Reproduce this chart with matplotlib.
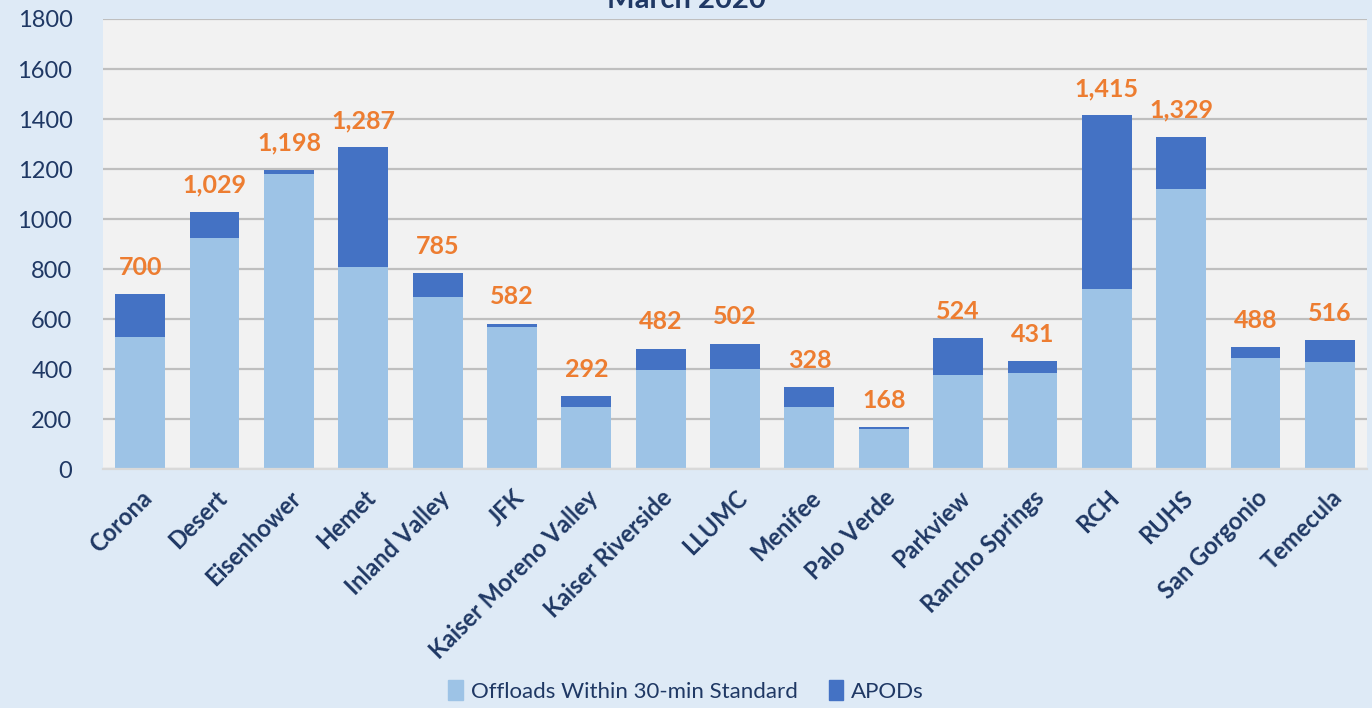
import numpy as np
import matplotlib
matplotlib.use("Agg")
import matplotlib.pyplot as plt
from matplotlib.patches import Patch

# Data
hospitals = ["Corona", "Desert", "Eisenhower", "Hemet", "Inland Valley", "JFK",
             "Kaiser Moreno Valley", "Kaiser Riverside", "LLUMC", "Menifee",
             "Palo Verde", "Parkview", "Rancho Springs", "RCH", "RUHS",
             "San Gorgonio", "Temecula"]
totals = [700, 1029, 1198, 1287, 785, 582, 292, 482, 502, 328,
          168, 524, 431, 1415, 1329, 488, 516]
within_30 = [528, 924, 1180, 810, 688, 570, 248, 397, 401, 248,
             161, 376, 385, 720, 1120, 446, 428]
apods = [t - w for t, w in zip(totals, within_30)]

fig_bg = "#DEEAF6"
navy = "#1F3864"
light = "#9DC3E6"
dark = "#4472C4"
orange = "#ED7D31"

plt.rcParams['font.family'] = ['Lato', 'DejaVu Sans']

fig = plt.figure(figsize=(13.72, 7.08), dpi=100, facecolor=fig_bg)
ax = fig.add_axes([0.0751, 0.3371, 0.9213, 0.6361])
ax.set_facecolor("#F2F2F2")

x = np.arange(len(hospitals))
ax.bar(x, within_30, width=0.67, color=light, zorder=3)
ax.bar(x, apods, width=0.67, bottom=within_30, color=dark, zorder=3)

# total labels above each stack
for xi, t in zip(x, totals):
    ax.annotate(f"{t:,}", (xi, t), xytext=(0, 11), textcoords="offset points",
                ha="center", va="bottom", color=orange, fontsize=18,
                fontweight="bold")

ax.set_xlim(-0.5, len(hospitals) - 0.5)
ax.set_ylim(0, 1800)
ax.set_yticks(range(0, 1801, 200))
ax.grid(axis="y", color="#BFBFBF", linewidth=1.6, zorder=0)
for s in ["top", "right", "left"]:
    ax.spines[s].set_visible(False)
ax.spines["bottom"].set_color("#D9D9D9")
ax.spines["bottom"].set_linewidth(1.6)
ax.spines["bottom"].set_zorder(4)

ax.tick_params(axis="y", length=0, pad=22, labelsize=17, labelcolor=navy)
ax.tick_params(axis="x", length=0, pad=12, labelcolor=navy)
ax.set_xticks(x)
ax.set_xticklabels(hospitals, rotation=45, ha="right", rotation_mode="anchor",
                   fontsize=17, fontweight="bold")

fig.text(0.5, 0.989, "March 2020", ha="center", va="baseline",
         fontsize=21, fontweight="bold", color=navy)

handles = [Patch(color=light, label="Offloads Within 30-min Standard"),
           Patch(color=dark, label="APODs")]
fig.legend(handles=handles, loc="center", bbox_to_anchor=(0.5, 0.024), ncol=2,
           frameon=False, fontsize=16, labelcolor=navy, handlelength=0.65,
           handleheight=1.0, handletextpad=0.35, columnspacing=1.4)

fig.savefig("out.png", dpi=100, facecolor=fig_bg)
